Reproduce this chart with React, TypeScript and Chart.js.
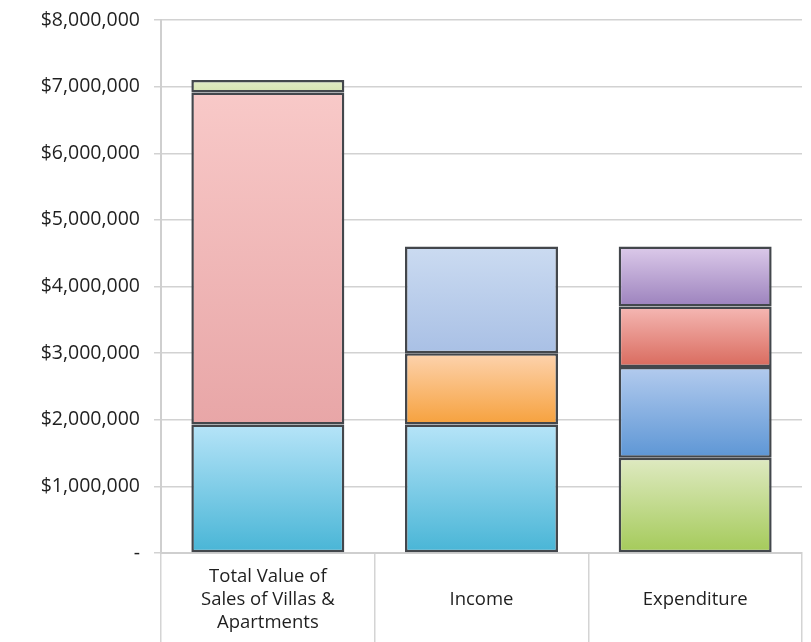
import React, { useEffect, useRef } from "react";
import { Chart, registerables } from "chart.js";

Chart.register(...registerables);

const categories: (string | string[])[] = [
  ["Total Value of", "Sales of Villas &", "Apartments"],
  "Income",
  "Expenditure",
];

// stack levels (bottom to top), one value per category
const level1 = [1930000, 1930000, 1430000];
const level2 = [4980000, 1070000, 1360000];
const level3 = [190000, 1600000, 910000];
const level4 = [null, null, 900000];
const levels = [level1, level2, level3, level4];

const yTickValues = [0, 1000000, 2000000, 3000000, 4000000, 5000000, 6000000, 7000000, 8000000];

// gradient colours [top, bottom] per level per category
const gradTop = [
  ["#b6e4f8", "#b6e4f8", "#dfeac2"],
  ["#f8c9c8", "#fdd3ae", "#b3cbee"],
  ["#e2ecc6", "#cbdbf1", "#f5b8b4"],
  ["", "", "#dccaea"],
];
const gradBottom = [
  ["#48b5d6", "#48b5d6", "#a4ca59"],
  ["#e8a6a7", "#f6a13d", "#5d96d5"],
  ["#d5e3b0", "#a9c0e5", "#d96a5d"],
  ["", "", "#9c82bd"],
];

export default function App() {
  const ref = useRef<HTMLCanvasElement | null>(null);
  useEffect(() => {
    if (!ref.current) return;
    const makeBg = (level: number) => (ctx: any) => {
      const chart = ctx.chart;
      const i = ctx.dataIndex;
      const top = gradTop[level][i] || "#cccccc";
      const bot = gradBottom[level][i] || "#cccccc";
      const ys = chart.scales && chart.scales.y;
      if (!chart.chartArea || !ys) return top;
      let base = 0;
      for (let l = 0; l < level; l++) base += (levels[l][i] as number) || 0;
      const v = (levels[level][i] as number) || 0;
      const yT = ys.getPixelForValue(base + v);
      const yB = ys.getPixelForValue(base);
      if (!isFinite(yT) || !isFinite(yB) || yT === yB) return top;
      const g = chart.ctx.createLinearGradient(0, yT, 0, yB);
      g.addColorStop(0, top);
      g.addColorStop(1, bot);
      return g;
    };
    const chart = new Chart(ref.current, {
      type: "bar",
      data: {
        labels: categories as any,
        datasets: levels.map((d, li) => ({
          label: "Level " + (li + 1),
          data: d as any,
          backgroundColor: makeBg(li),
          borderColor: "#43474c",
          borderWidth: 2.5,
          borderSkipped: false,
          barPercentage: 0.716,
          categoryPercentage: 1,
        })),
      },
      options: {
        animation: false,
        responsive: false,
        maintainAspectRatio: false,
        layout: { padding: { top: 20, right: 9, left: 0, bottom: 0 } },
        plugins: { legend: { display: false }, tooltip: { enabled: false } },
        scales: {
          x: {
            stacked: true,
            offset: true,
            grid: {
              offset: true,
              drawOnChartArea: false,
              drawTicks: true,
              tickLength: 89,
              color: "#d4d4d4",
              lineWidth: 1.5,
            },
            border: { display: true, color: "#cfcfcf", width: 2 },
            ticks: {
              padding: -65,
              crossAlign: "center",
              color: "#1f1f1f",
              font: { family: "Open Sans", size: 18.5, lineHeight: 1.24 },
              maxRotation: 0,
              autoSkip: false,
            },
            afterFit: (s: any) => {
              s.height = 89;
              s.paddingLeft = 0;
              s.paddingRight = 0;
            },
          },
          y: {
            stacked: true,
            min: 0,
            max: 8000000,
            afterBuildTicks: (s: any) => {
              s.ticks = yTickValues.map((v) => ({ value: v }));
            },
            grid: {
              color: "#d2d2d2",
              lineWidth: 1.5,
              tickLength: 7,
            },
            border: { display: true, color: "#cfcfcf", width: 2 },
            ticks: {
              padding: 14,
              color: "#1f1f1f",
              font: { family: "Open Sans", size: 19.5 },
              callback: (v: any) =>
                Number(v) === 0 ? "-" : "$" + Number(v).toLocaleString("en-US"),
            },
            afterFit: (s: any) => {
              s.width = 161;
              s.paddingTop = 0;
              s.paddingBottom = 0;
            },
          },
        },
      },
    });
    return () => chart.destroy();
  }, []);
  return (
    <div style={{ position: "fixed", left: 0, top: 0, width: 811, height: 642, background: "#fff" }}>
      <canvas ref={ref} width={811} height={642} style={{ display: "block" }} />
    </div>
  );
}
